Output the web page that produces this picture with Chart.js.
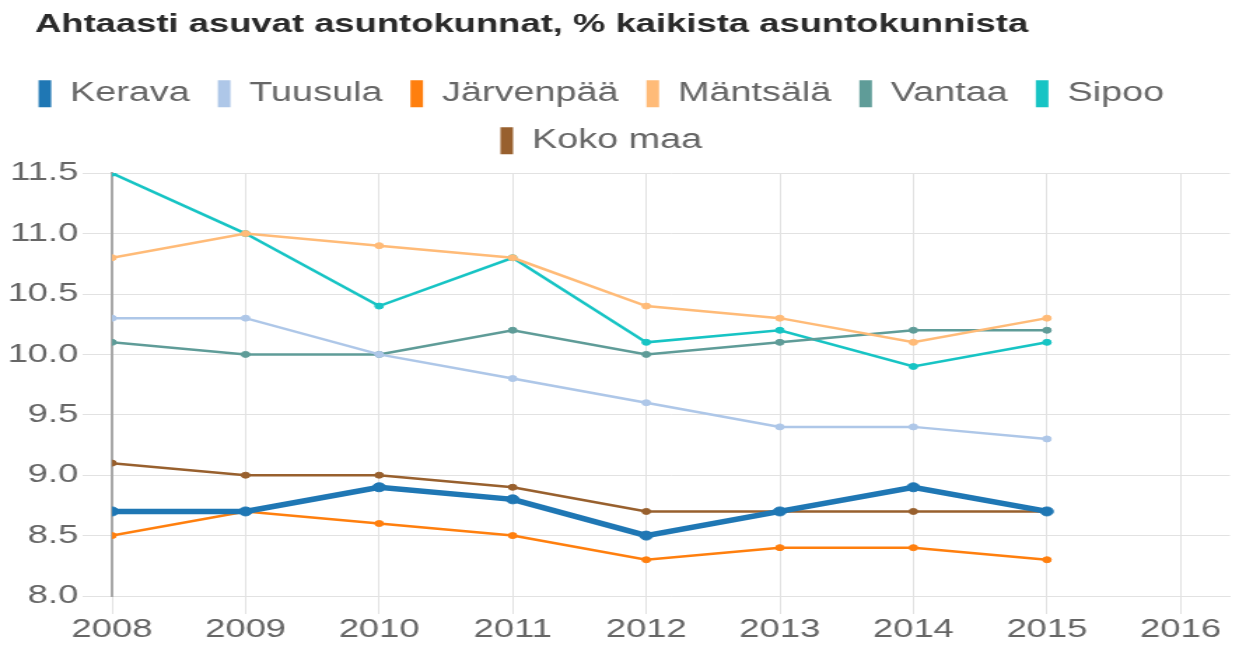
<!DOCTYPE html>
<html>
<head>
<meta charset="utf-8">
<script src="https://cdn.jsdelivr.net/npm/chart.js@4.4.1/dist/chart.umd.min.js"></script>
<style>
    html, body { margin: 0; padding: 0; background: #fff; overflow: hidden; }
    /* the reference is stretched sideways, so the canvas is drawn narrow and widened */
    #wrap { width: 884px; height: 648px; transform: scaleX(1.4); transform-origin: 0 0; }
</style>
</head>
<body>
<div id="wrap"><canvas id="chart-ahtaasti"></canvas></div>
<script>
// =========================================================================
// DATA
// =========================================================================
var vuodet = [2008, 2009, 2010, 2011, 2012, 2013, 2014, 2015];

var kerava    = [8.7, 8.7, 8.9, 8.8, 8.5, 8.7, 8.9, 8.7];
var tuusula   = [10.3, 10.3, 10.0, 9.8, 9.6, 9.4, 9.4, 9.3];
var jarvenpaa = [8.5, 8.7, 8.6, 8.5, 8.3, 8.4, 8.4, 8.3];
var mantsala  = [10.8, 11.0, 10.9, 10.8, 10.4, 10.3, 10.1, 10.3];
var vantaa    = [10.1, 10.0, 10.0, 10.2, 10.0, 10.1, 10.2, 10.2];
var sipoo     = [11.5, 11.0, 10.4, 10.8, 10.1, 10.2, 9.9, 10.1];
var kokoMaa   = [9.1, 9.0, 9.0, 8.9, 8.7, 8.7, 8.7, 8.7];

var xMin = 2008, xMax = 2016.37;
var yMin = 8.0, yMax = 11.5, yStep = 0.5;

// =========================================================================
// HELPERS
// =========================================================================
var FONT = '"Liberation Sans", Arial, Helvetica, sans-serif';

function pisteet(arvot) {
    return vuodet.map(function (v, i) { return { x: v, y: arvot[i] }; });
}

function sarja(nimi, arvot, vari, paksu) {
    return {
        label: nimi,
        data: pisteet(arvot),
        borderColor: vari,
        backgroundColor: vari,
        pointBackgroundColor: vari,
        pointBorderColor: vari,
        borderWidth: paksu ? 5.5 : 2.5,
        pointRadius: paksu ? 4.5 : 3,
        pointBorderWidth: 1,
        tension: 0
    };
}

// title / legend placement tweak
var siirto = {
    id: 'siirto',
    afterLayout: function (chart) {
        if (chart.titleBlock) chart.titleBlock.left += 25;
        if (chart.legend) {
            chart.legend.right -= 20;
            chart.legend.top -= 9;
            chart.legend.bottom -= 9;
        }
    }
};

// =========================================================================
// CHART
// =========================================================================
var ctx = document.getElementById('chart-ahtaasti').getContext('2d');

new Chart(ctx, {
    type: 'line',
    data: {
        datasets: [
            sarja('Kerava', kerava, '#1f77b4', true),
            sarja('Tuusula', tuusula, '#aec7e8'),
            sarja('Järvenpää', jarvenpaa, '#ff7f0e'),
            sarja('Mäntsälä', mantsala, '#ffbb78'),
            sarja('Vantaa', vantaa, '#5f9c98'),
            sarja('Sipoo', sipoo, '#17c4c4'),
            sarja('Koko maa', kokoMaa, '#98602e')
        ]
    },
    options: {
        responsive: true,
        maintainAspectRatio: false,
        animation: false,
        layout: { padding: { left: 0, right: 5, top: 0, bottom: 0 } },
        plugins: {
            title: {
                display: true,
                text: 'Ahtaasti asuvat asuntokunnat, % kaikista asuntokunnista',
                align: 'start',
                color: '#2a2a2a',
                font: { family: FONT, size: 26, weight: 'bold' },
                padding: { top: 9, bottom: 29 }
            },
            legend: {
                position: 'top',
                labels: {
                    boxWidth: 9,
                    boxHeight: 27,
                    padding: 20,
                    color: '#666',
                    font: { family: FONT, size: 27 },
                    generateLabels: function (chart) {
                        var items = Chart.defaults.plugins.legend.labels.generateLabels(chart);
                        items.forEach(function (it) { it.lineWidth = 0; });
                        return items;
                    }
                }
            },
            tooltip: { enabled: false }
        },
        scales: {
            x: {
                type: 'linear',
                min: xMin,
                max: xMax,
                afterFit: function (s) { s.height = 52; },
                grid: { color: '#e2e2e2', tickLength: 18 },
                border: { color: '#e2e2e2' },
                ticks: {
                    stepSize: 1,
                    includeBounds: false,
                    padding: 0,
                    color: '#666',
                    font: { family: FONT, size: 26 },
                    callback: function (v) { return v % 1 === 0 ? String(v) : ''; }
                }
            },
            y: {
                min: yMin,
                max: yMax,
                afterFit: function (s) { s.width = 80; },
                grid: { color: '#e2e2e2', tickLength: 21 },
                border: { color: '#a8a8a8', width: 2 },
                ticks: {
                    stepSize: yStep,
                    padding: 3,
                    color: '#666',
                    font: { family: FONT, size: 26 },
                    callback: function (v) { return v.toFixed(1); }
                }
            }
        }
    },
    plugins: [siirto]
});
</script>
</body>
</html>
